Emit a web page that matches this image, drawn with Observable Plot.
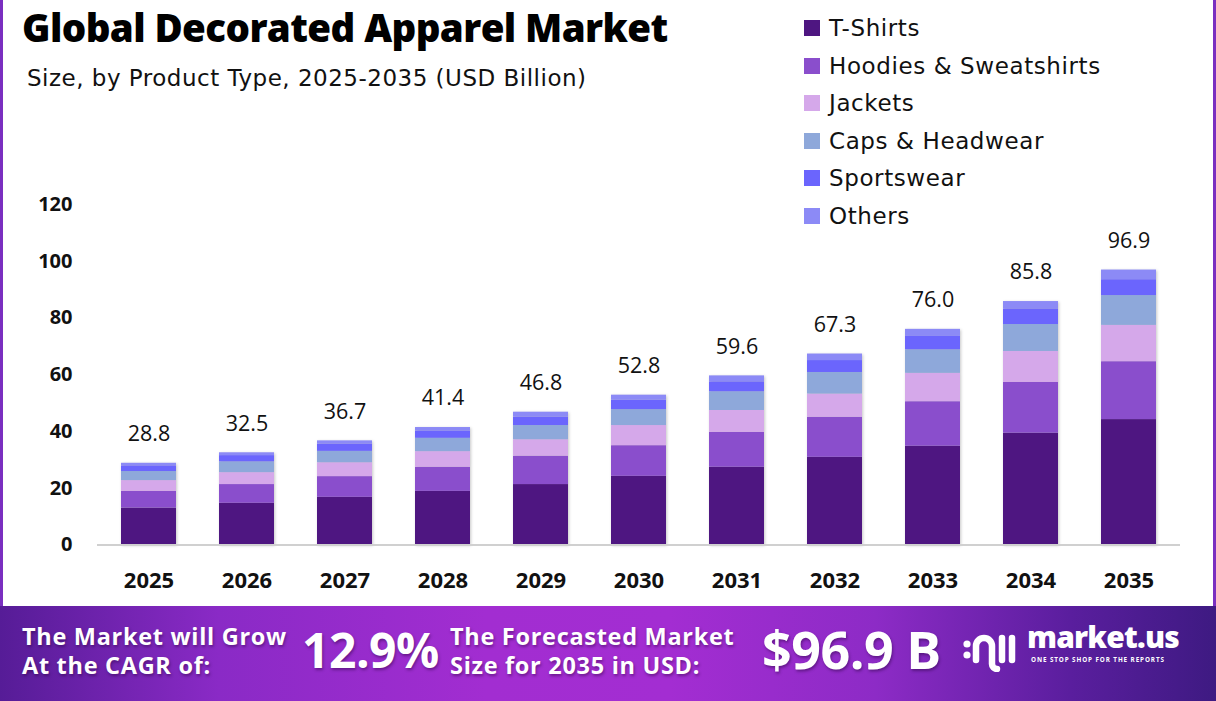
<!DOCTYPE html>
<html>
<head>
<meta charset="utf-8">
<script src="https://cdn.jsdelivr.net/npm/d3@7"></script>
<script src="https://cdn.jsdelivr.net/npm/@observablehq/plot@0.6"></script>
<style>
  html, body { margin: 0; padding: 0; background: #fff; }
  #page { position: relative; width: 1216px; height: 701px; overflow: hidden; background: #fff; font-family: "Open Sans", sans-serif; color: #111; }
  #frame { position: absolute; left: 0; top: 0; width: 1216px; height: 606px; box-sizing: border-box; border-left: 3px solid #7a2fc0; border-right: 3px solid #7a2fc0; pointer-events: none; }
  #chart { position: absolute; left: 0; top: 0; }
  #title { position: absolute; left: 22px; top: 2px; font-size: 38.5px; font-weight: 800; color: #000; letter-spacing: -0.6px; white-space: nowrap; line-height: 1.3; }
  #subtitle { position: absolute; left: 27px; top: 65px; font-family: "DejaVu Sans", sans-serif; font-size: 23px; font-weight: 400; color: #111; white-space: nowrap; line-height: 1.2; letter-spacing: 0.5px; }
  #legend { position: absolute; left: 804px; top: 12px; }
  .lg-row { position: absolute; left: 0; height: 32px; display: flex; align-items: center; white-space: nowrap; font-family: "DejaVu Sans", sans-serif; font-size: 23px; letter-spacing: 0.6px; color: #111; }
  .lg-sw { width: 16px; height: 16px; margin-right: 9px; }
  #banner { position: absolute; left: 0; top: 606px; width: 1216px; height: 95px;
    background: linear-gradient(90deg, #561c97 0%, #8a2ac6 18%, #a22dd1 40%, #a32dd2 55%, #8d2bc6 72%, #5a1e9e 88%, #3e1a82 100%);
    color: #fff; font-family: "Open Sans", sans-serif; font-weight: 700; }
  .bn { position: absolute; white-space: nowrap; text-shadow: 1px 2px 3px rgba(40,0,60,0.45); }
  .bn-small { font-size: 23.5px; line-height: 29px; letter-spacing: 0.7px; }
  .bn-big { letter-spacing: -0.5px; line-height: 1.2; }
  #logo-word { position: absolute; left: 1027px; top: 16px; font-family: "Open Sans", sans-serif; font-weight: 800; font-size: 30px; letter-spacing: -0.8px; line-height: 1; }
  #logo-tag { position: absolute; left: 1031px; top: 51px; font-family: "Open Sans", sans-serif; font-weight: 700; font-size: 6.3px; letter-spacing: 0.9px; line-height: 1; }
  svg g[aria-label="bar"] { filter: drop-shadow(1px 1px 1.5px rgba(0,0,0,0.22)); }
  svg g[aria-label="x-axis tick label"] { font-size: 22px; font-weight: 700; fill: #111; }
  svg g[aria-label="y-axis tick label"] { font-size: 20px; font-weight: 700; fill: #111; }
</style>
</head>
<body>
<div id="page">
  <div id="chart"></div>
  <div id="frame"></div>
  <div id="title">Global Decorated Apparel Market</div>
  <div id="subtitle">Size, by Product Type, 2025-2035 (USD Billion)</div>
  <div id="legend"></div>
  <div id="banner">
    <div class="bn bn-small" style="left:22px; top:16px;">The Market will Grow<br>At the CAGR of:</div>
    <div class="bn bn-big" style="left:302px; top:15px; font-size:48px;">12.9%</div>
    <div class="bn bn-small" style="left:450px; top:16px;">The Forecasted Market<br>Size for 2035 in USD:</div>
    <div class="bn bn-big" style="left:762px; top:12px; font-size:52px;">$96.9 B</div>
    <svg style="position:absolute; left:962px; top:24px;" width="56" height="42" viewBox="0 0 56 42">
      <circle cx="5" cy="14" r="3.6" fill="#fff"/>
      <circle cx="5" cy="25" r="3.6" fill="#fff"/>
      <path d="M14 30 V16 a8 8 0 0 1 16 0 V34 a5 5 0 0 0 5 5" fill="none" stroke="#fff" stroke-width="6.5" stroke-linecap="round"/>
      <path d="M40 8 V30" stroke="#fff" stroke-width="6.5" stroke-linecap="round"/>
      <path d="M50 8 V30" stroke="#fff" stroke-width="6.5" stroke-linecap="round"/>
    </svg>
    <div id="logo-word">market.us</div>
    <div id="logo-tag">ONE STOP SHOP FOR THE REPORTS</div>
  </div>
</div>
<script>
// Market size by product type, USD billion
const years = ["2025", "2026", "2027", "2028", "2029", "2030", "2031", "2032", "2033", "2034", "2035"];
const categories = ["T-Shirts", "Hoodies & Sweatshirts", "Jackets", "Caps & Headwear", "Sportswear", "Others"];
const colors = ["#4e1681", "#8a4ecc", "#d5a8ea", "#8ea8da", "#6b65fd", "#8c8af6"];

const tShirts  = [13.0, 14.7, 16.8, 18.9, 21.3, 24.2, 27.4, 30.9, 34.8, 39.4, 44.2];
const hoodies  = [5.9, 6.6, 7.3, 8.5, 10.0, 10.8, 12.3, 14.1, 15.7, 17.9, 20.4];
const jackets  = [3.8, 4.2, 4.9, 5.5, 5.8, 7.1, 7.7, 8.2, 10.0, 10.9, 12.8];
const caps     = [3.2, 3.8, 4.0, 4.7, 5.0, 5.6, 6.6, 7.6, 8.3, 9.5, 10.5];
const sports   = [2.0, 2.2, 2.6, 2.6, 3.0, 3.3, 3.5, 4.2, 4.7, 5.5, 5.6];
const others   = [0.9, 1.0, 1.1, 1.2, 1.7, 1.8, 2.1, 2.3, 2.5, 2.6, 3.4];
const totals   = [28.8, 32.5, 36.7, 41.4, 46.8, 52.8, 59.6, 67.3, 76.0, 85.8, 96.9];
const yTicks   = [0, 20, 40, 60, 80, 100, 120];

const seriesValues = [tShirts, hoodies, jackets, caps, sports, others];

// long-format rows, stacked bottom-up in category order
const rows = [];
years.forEach((year, i) => {
  categories.forEach((category, k) => {
    rows.push({year, category, value: seriesValues[k][i]});
  });
});
const totalRows = years.map((year, i) => ({year, total: totals[i]}));

const chart = Plot.plot({
  width: 1216,
  height: 606,
  marginLeft: 97,
  marginRight: 36,
  marginTop: 204,
  marginBottom: 61.5,
  style: {fontFamily: "'Open Sans', sans-serif", background: "transparent", color: "#111"},
  x: {domain: years, paddingInner: 0.44, paddingOuter: 0.2175, label: null},
  y: {domain: [0, 120], label: null},
  color: {domain: categories, range: colors},
  marks: [
    Plot.barY(rows, {x: "year", y: "value", fill: "category"}),
    Plot.ruleY([0], {stroke: "#d0d0d0", strokeWidth: 2}),
    Plot.text(totalRows, {x: "year", y: "total", text: d => d.total.toFixed(1), dy: -29, fontSize: 21.5, fill: "#111"}),
    Plot.axisX({tickSize: 0, tickPadding: 27, label: null}),
    Plot.axisY({ticks: yTicks, tickSize: 0, tickPadding: 25, label: null})
  ]
});
document.getElementById("chart").appendChild(chart);

// legend
const legend = document.getElementById("legend");
const rowTops = [0, 38, 75, 113, 150, 188];
categories.forEach((c, k) => {
  const row = document.createElement("div");
  row.className = "lg-row";
  row.style.top = rowTops[k] + "px";
  const sw = document.createElement("span");
  sw.className = "lg-sw";
  sw.style.background = colors[k];
  const label = document.createElement("span");
  label.textContent = c;
  row.appendChild(sw);
  row.appendChild(label);
  legend.appendChild(row);
});
</script>
</body>
</html>
